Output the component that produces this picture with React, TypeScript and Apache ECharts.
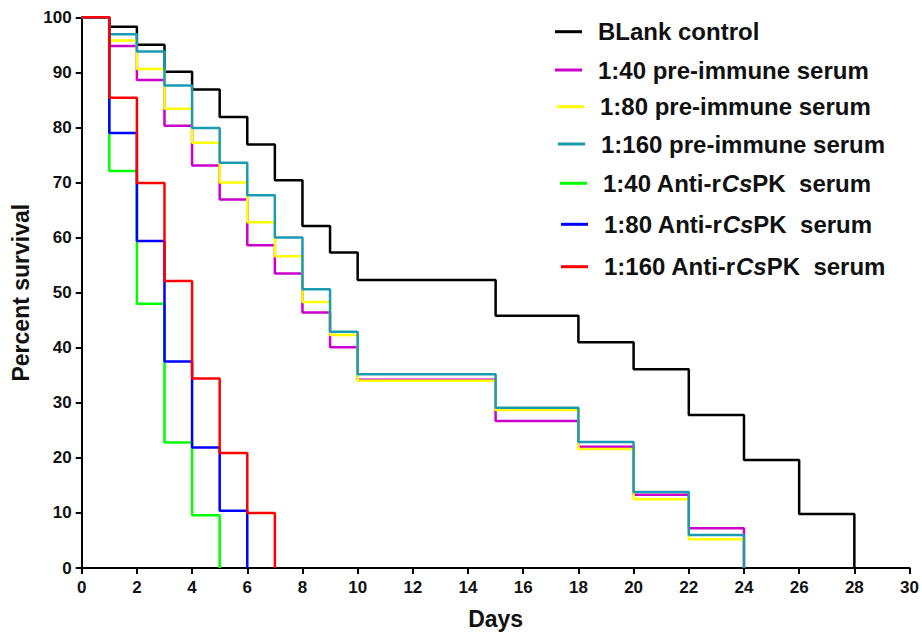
import React, { useEffect, useRef } from "react";
import * as echarts from "echarts";

// ---- data ----
const seriesNames = [
  "BLank control",
  "1:40 pre-immune serum",
  "1:80 pre-immune serum",
  "1:160 pre-immune serum",
  "1:40 Anti-rCsPK  serum",
  "1:80 Anti-rCsPK  serum",
  "1:160 Anti-rCsPK  serum",
];
const seriesColors = ["#000000", "#cc00cc", "#ffff00", "#1a9bb3", "#00ff00", "#0000ff", "#ff0000"];

const blankDays = [0, 1, 2, 3, 4, 5, 6, 7, 8, 9, 10, 15, 18, 20, 22, 24, 26, 28];
const blankSurvival = [100, 98.3, 95.0, 90.1, 86.9, 81.9, 76.9, 70.4, 62.1, 57.3, 52.3, 45.8, 41.0, 36.1, 27.8, 19.6, 9.8, 0];

const preDays = [0, 1, 2, 3, 4, 5, 6, 7, 8, 9, 10, 15, 18, 20, 22, 24];
const pre40Survival = [100, 94.8, 88.6, 80.3, 73.1, 66.9, 58.6, 53.5, 46.4, 40.1, 34.2, 26.7, 22.0, 13.3, 7.2, 0];
const pre80Survival = [100, 95.8, 90.6, 83.4, 77.2, 70.0, 62.8, 56.6, 48.3, 42.3, 34.0, 28.7, 21.6, 12.5, 5.2, 0];
const pre160Survival = [100, 96.9, 93.8, 87.6, 79.9, 73.6, 67.7, 60.0, 50.6, 42.9, 35.2, 29.1, 22.9, 13.8, 6.0, 0];

const anti40Days = [0, 1, 2, 3, 4, 5];
const anti40Survival = [100, 72.1, 48.0, 22.8, 9.6, 0];
const anti80Days = [0, 1, 2, 3, 4, 5, 6];
const anti80Survival = [100, 79.0, 59.4, 37.5, 21.9, 10.4, 0];
const anti160Days = [0, 1, 2, 3, 4, 5, 6, 7];
const anti160Survival = [100, 85.4, 69.9, 52.1, 34.4, 20.9, 10.0, 0];

const xTicks = { min: 0, max: 30, interval: 2 };
const yTicks = { min: 0, max: 100, interval: 10 };

const seriesDays = [blankDays, preDays, preDays, preDays, anti40Days, anti80Days, anti160Days];
const seriesValues = [blankSurvival, pre40Survival, pre80Survival, pre160Survival, anti40Survival, anti80Survival, anti160Survival];

// ---- layout (not data) ----
const FONT = '"Liberation Sans", Arial, Helvetica, sans-serif';
const legendPos = [
  { left: 555, cy: 31.7 },
  { left: 555, cy: 70 },
  { left: 557, cy: 106.7 },
  { left: 558, cy: 144 },
  { left: 560, cy: 183.3 },
  { left: 561, cy: 224.3 },
  { left: 561, cy: 266.7 },
];

export default function App() {
  const ref = useRef<HTMLDivElement>(null);

  useEffect(() => {
    if (!ref.current) return;
    const chart = echarts.init(ref.current, null, { renderer: "svg" });

    const series = seriesNames.map((name, i) => ({
      name,
      type: "line",
      step: "end",
      showSymbol: false,
      symbol: "none",
      clip: false,
      color: seriesColors[i],
      lineStyle: { color: seriesColors[i], width: 2.5 },
      itemStyle: { color: seriesColors[i] },
      data: seriesDays[i].map((d, j) => [d, seriesValues[i][j]]),
      z: 2 + i,
    }));

    const legends = seriesNames.map((name, i) => ({
      data: [name],
      left: legendPos[i].left,
      top: legendPos[i].cy - 13,
      orient: "vertical",
      padding: 0,
      itemWidth: 27,
      itemHeight: 3,
      icon: "rect",
      selectedMode: false,
      formatter: (n: string) => n.replace("Cs", "{i|Cs}"),
      textStyle: {
        fontFamily: FONT,
        fontWeight: "bold",
        fontSize: 24,
        lineHeight: 26,
        color: "#111",
        padding: [0, 0, 0, 11],
        rich: {
          i: {
            fontFamily: FONT,
            fontWeight: "bold",
            fontStyle: "italic",
            fontSize: 24,
            lineHeight: 26,
            color: "#111",
          },
        },
      },
    }));

    const axisCommon = {
      axisLine: { show: true, lineStyle: { color: "#000", width: 2 } },
      axisTick: { show: true, inside: false, length: 6, lineStyle: { color: "#000", width: 2 } },
      splitLine: { show: false },
      nameTextStyle: { fontFamily: FONT, fontWeight: "bold", fontSize: 23, color: "#111" },
    };

    chart.setOption({
      animation: false,
      backgroundColor: "#ffffff",
      grid: { left: 81.7, right: 11.3, top: 17.3, bottom: 64, containLabel: false },
      legend: legends,
      xAxis: {
        type: "value",
        ...xTicks,
        ...axisCommon,
        name: "Days",
        nameLocation: "middle",
        nameGap: 39,
        axisLabel: { margin: 11, fontFamily: FONT, fontWeight: "bold", fontSize: 17, color: "#111" },
      },
      yAxis: {
        type: "value",
        ...yTicks,
        ...axisCommon,
        name: "Percent survival",
        nameLocation: "middle",
        nameGap: 49,
        axisLabel: { margin: 10, fontFamily: FONT, fontWeight: "bold", fontSize: 17, color: "#111" },
      },
      series,
    });

    return () => chart.dispose();
  }, []);

  return (
    <div
      ref={ref}
      style={{ position: "absolute", left: 0, top: 0, width: 922, height: 635, background: "#fff" }}
    />
  );
}
